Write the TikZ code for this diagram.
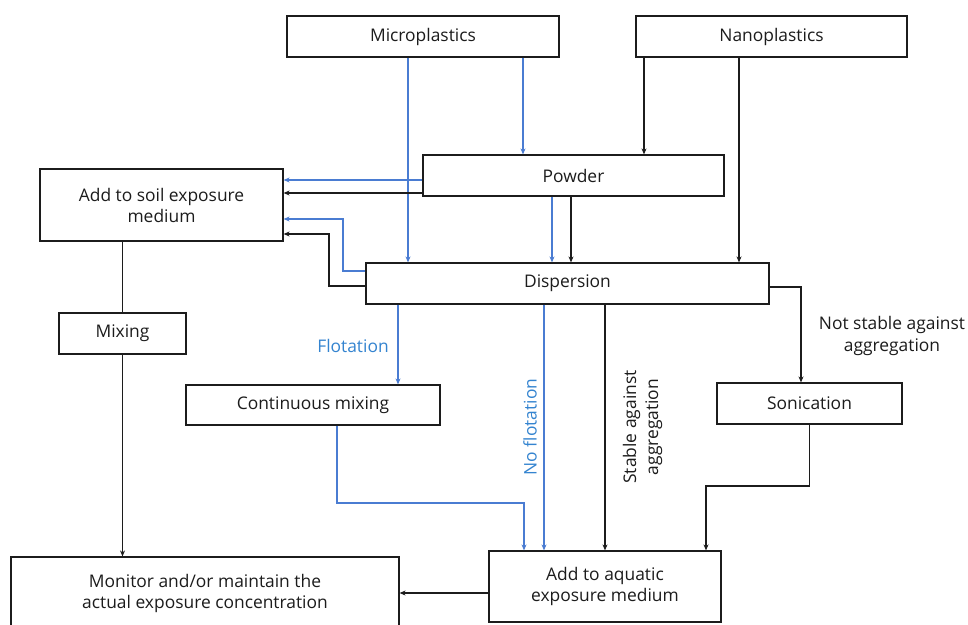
\documentclass[tikz,border=0pt]{standalone}
\usepackage{fontspec}
\setmainfont{Open Sans}
\usetikzlibrary{arrows.meta,calc}
\definecolor{lblue}{RGB}{74,124,210}
\definecolor{tblue}{RGB}{52,132,208}
\definecolor{ink}{RGB}{28,28,28}
\begin{document}
\begin{tikzpicture}[x=1pt,y=-1pt,
  box/.style={draw=ink,line width=1.2pt,rectangle,inner sep=0pt,align=center,
    font=\fontsize{17.4}{21}\selectfont,text=ink},
  lbl/.style={inner sep=0pt,align=center,font=\fontsize{17.4}{22}\selectfont,text=ink},
  bl/.style={draw=lblue,line width=1.1pt,-{Stealth[length=6pt,width=5pt]}},
  bk/.style={draw=ink,line width=1.1pt,-{Stealth[length=6pt,width=5pt]}},
  bkn/.style={draw=ink,line width=1.2pt}]
\fill[white] (0,0) rectangle (968,624);
\useasboundingbox (0,0) rectangle (968,624);
% boxes
\node[box,minimum width=272,minimum height=41] (micro) at (423,36.5) {Microplastics};
\node[box,minimum width=271,minimum height=41] (nano) at (771.5,36.5) {Nanoplastics};
\node[box,minimum width=301,minimum height=41] (powder) at (573.5,175.5) {Powder};
\node[box,minimum width=243,minimum height=72] (soil) at (161.5,205) {Add to soil exposure\\medium};
\node[box,minimum width=403,minimum height=41] (disp) at (567.5,283.5) {Dispersion};
\node[box,minimum width=127,minimum height=41] (mixing) at (122.5,333.5) {Mixing};
\node[box,minimum width=254,minimum height=40] (cont) at (313,405) {Continuous mixing};
\node[box,minimum width=185,minimum height=41] (sonic) at (809.5,403.5) {Sonication};
\node[box,minimum width=232,minimum height=71] (aqua) at (605,586.5) {Add to aquatic\\exposure medium};
\node[box,minimum width=388,minimum height=72] (monitor) at (205,593) {Monitor and/or maintain the\\actual exposure concentration};
% helper coordinates
\coordinate (c1) at (408,0);
\coordinate (c2) at (523,0);
\coordinate (c3) at (644,0);
\coordinate (c4) at (739,0);
\coordinate (c5) at (552,0);
\coordinate (c6) at (571,0);
\coordinate (r1) at (0,180);
\coordinate (r2) at (0,193);
\coordinate (b1) at (343,271);
\coordinate (b1t) at (343,219);
\coordinate (k1) at (329,286);
\coordinate (k1t) at (329,234);
\coordinate (c7) at (398,0);
\coordinate (m1) at (337,503);
\coordinate (m2) at (524,503);
\coordinate (c8) at (544,0);
\coordinate (s1) at (801,287);
\coordinate (s2) at (809.5,486);
\coordinate (s3) at (706,486);
\coordinate (r3) at (0,593);
% connectors from sources
\draw[bl] (micro.south -| c1) -- (disp.north -| c1);
\draw[bl] (micro.south -| c2) -- (powder.north -| c2);
\draw[bk] (nano.south -| c3) -- (powder.north -| c3);
\draw[bk] (nano.south -| c4) -- (disp.north -| c4);
% powder
\draw[bl] (powder.west |- r1) -- (soil.east |- r1);
\draw[bk] (powder.west |- r2) -- (soil.east |- r2);
\draw[bl] (powder.south -| c5) -- (disp.north -| c5);
\draw[bk] (powder.south -| c6) -- (disp.north -| c6);
% dispersion to soil
\draw[bl] (disp.west |- b1) -- (b1) -- (b1t) -- (soil.east |- b1t);
\draw[bk] (disp.west |- k1) -- (k1) -- (k1t) -- (soil.east |- k1t);
% soil chain
\draw[bkn] (soil.south -| mixing.north) -- (mixing.north);
\draw[bk] (mixing.south) -- (monitor.north -| mixing.south);
% dispersion outputs
\draw[bl] (disp.south -| c7) -- (cont.north -| c7);
\draw[bl] (cont.south -| m1) -- (m1) -- (m2) -- (aqua.north -| m2);
\draw[bl] (disp.south -| c8) -- (aqua.north -| c8);
\draw[bk] (disp.south -| aqua.north) -- (aqua.north);
\draw[bk] (disp.east |- s1) -- (s1) -- (sonic.north -| s1);
\draw[bk] (sonic.south) -- (s2) -- (s3) -- (aqua.north -| s3);
\draw[bk] (aqua.west |- r3) -- (monitor.east |- r3);
% labels
\node[lbl,text=tblue] (flot) at (353,346) {Flotation};
\node[lbl,text=tblue,rotate=90] (noflot) at (530,427) {No flotation};
\node[lbl,rotate=90] (stable) at (642.5,427) {Stable against\\aggregation};
\node[lbl] (notstable) at (892,335.5) {Not stable against\\aggregation};
\end{tikzpicture}
\end{document}
